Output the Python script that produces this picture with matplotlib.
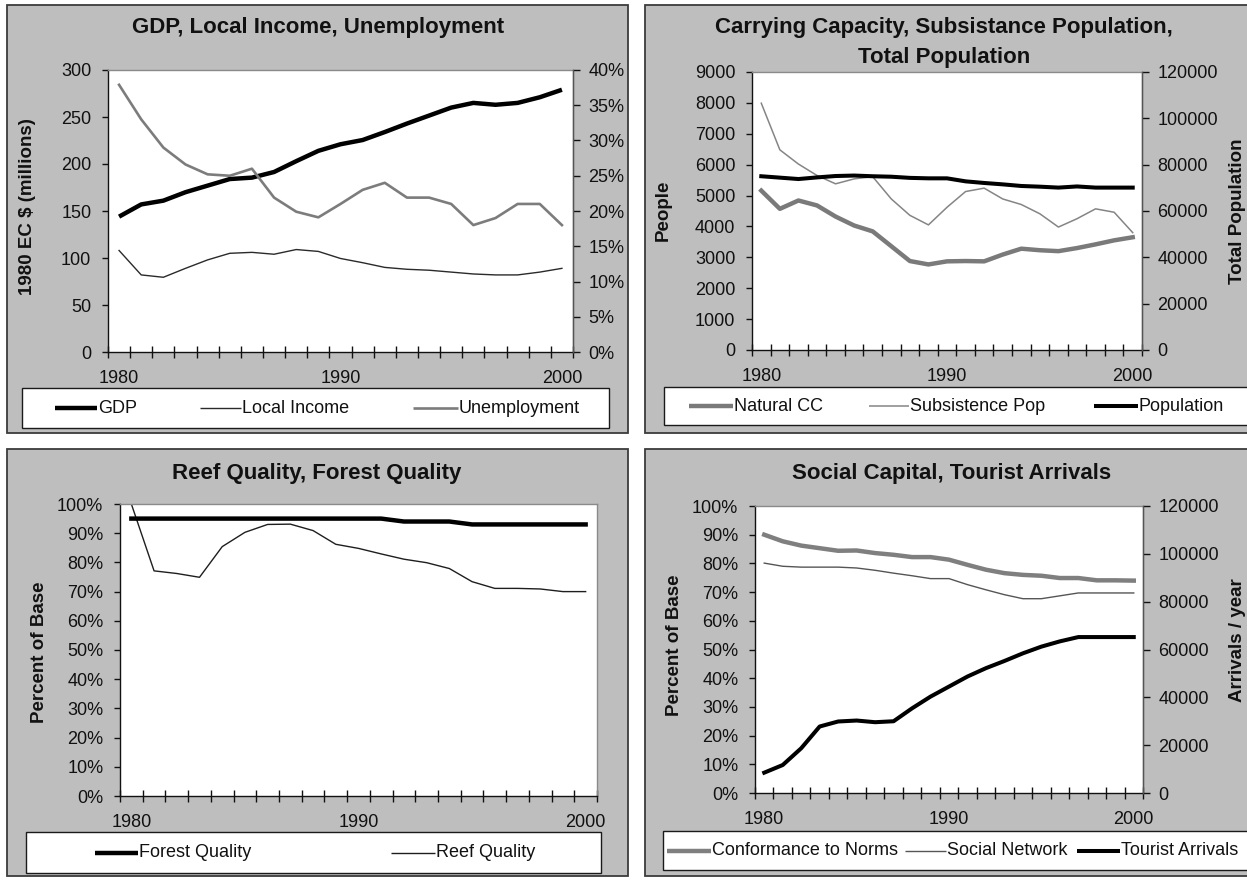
import numpy as np
import matplotlib
matplotlib.use("Agg")
import matplotlib.pyplot as plt
from matplotlib.patches import Rectangle
from matplotlib.lines import Line2D
from matplotlib.ticker import FuncFormatter, FixedLocator, MultipleLocator

plt.rcParams['font.family'] = ['Liberation Sans', 'DejaVu Sans']

# ---------------------------------------------------------------- data
years = list(range(1980, 2001))
year_labels = ['1980', '1990', '2000']

# GDP, local income (1980 EC $ millions) and unemployment (%)
gdp = [144, 157, 161, 170, 177, 184, 185.5, 191.5, 203, 214, 221, 225.5,
       234, 243, 251.5, 260, 265, 263, 265, 271, 279]
local_income = [108, 82, 79.5, 89, 98, 105, 106, 104, 109, 107, 99.5, 95,
                90, 88, 87, 85, 83, 82, 82, 85, 89]
unemployment = [37.9, 33, 29, 26.6, 25.2, 25, 26, 21.9, 19.9, 19.1, 21, 23,
                24, 21.9, 21.9, 21, 18, 19, 21, 21, 18]

# carrying capacity / subsistence population (people), total population
natural_cc = [5160, 4570, 4840, 4680, 4320, 4030, 3840, 3360, 2880, 2770,
              2870, 2880, 2870, 3090, 3280, 3230, 3200, 3300, 3420, 3550, 3650]
subsistence_pop = [7990, 6480, 6020, 5650, 5380, 5540, 5610, 4890, 4360, 4050,
                   4620, 5130, 5240, 4890, 4710, 4410, 3980, 4250, 4570, 4460, 3800]
population = [75000, 74400, 73800, 74500, 75100, 75300, 75000, 74800, 74300,
              74100, 74100, 72800, 72100, 71500, 70800, 70500, 70100, 70600,
              70100, 70100, 70100]

# reef and forest quality (% of base)
forest_quality = [95] * 12 + [94, 94, 94] + [93] * 6
reef_quality = [100, 77.1, 76.2, 74.9, 85.4, 90.3, 93, 93.1, 90.9, 86.2, 84.8,
                82.9, 81.1, 79.9, 77.9, 73.4, 71.1, 71.1, 70.9, 70, 70]

# social capital (% of base) and tourist arrivals per year
conformance = [90, 87.7, 86.2, 85.3, 84.4, 84.5, 83.6, 83, 82.2, 82.2, 81.3,
               79.5, 77.8, 76.6, 76, 75.7, 74.9, 74.9, 74.1, 74.1, 74]
social_network = [80.1, 79, 78.7, 78.7, 78.7, 78.4, 77.6, 76.6, 75.7, 74.7, 74.7,
                  72.6, 70.8, 69.1, 67.7, 67.7, 68.7, 69.7, 69.7, 69.7, 69.7]
tourist_arrivals = [8500, 11700, 18700, 27800, 29900, 30300, 29600, 30000,
                    35400, 40300, 44500, 48700, 52200, 55200, 58400, 61200,
                    63400, 65200, 65200, 65200, 65200]

# ---------------------------------------------------------------- layout
W, H = 1247, 880
fig = plt.figure(figsize=(W / 100, H / 100), dpi=100)
fig.patch.set_facecolor('white')

PANEL = '#bebebe'
TICK_FS = 13
LEG_FS = 13
TITLE_FS = 16
LABEL_FS = 13.5
DARK = '#111111'


def fx(px):
    return px / W


def fy(py):
    return 1 - py / H


def panel(x0, y0, x1, y1):
    fig.add_artist(Rectangle((fx(x0), fy(y1)), (x1 - x0) / W, (y1 - y0) / H,
                             transform=fig.transFigure, facecolor=PANEL,
                             edgecolor='#3c3c3c', lw=1.3, zorder=-2))


def legend_box(x0, y0, x1, y1, entries):
    fig.add_artist(Rectangle((fx(x0), fy(y1)), (x1 - x0) / W, (y1 - y0) / H,
                             transform=fig.transFigure, facecolor='white',
                             edgecolor='#1a1a1a', lw=1.0, zorder=1))
    yc = (y0 + y1) / 2
    for lx0, lx1, label, color, lw in entries:
        fig.add_artist(Line2D([fx(lx0), fx(lx1)], [fy(yc), fy(yc)],
                              transform=fig.transFigure, color=color, lw=lw,
                              solid_capstyle='butt', zorder=2))
        fig.text(fx(lx1 + 1), fy(yc), label, ha='left', va='center',
                 fontsize=LEG_FS, color=DARK, zorder=3)


def make_axes(x0, y0, x1, y1):
    ax = fig.add_axes([fx(x0), fy(y1), (x1 - x0) / W, (y1 - y0) / H])
    ax.set_facecolor('white')
    ax.set_xlim(years[0] - 0.5, years[-1] + 0.5)
    ax.set_xticks([int(s) for s in year_labels], year_labels)
    ax.xaxis.set_minor_locator(FixedLocator(np.arange(years[0] - 0.5, years[-1] + 1, 1)))
    ax.tick_params(axis='x', which='major', length=0, pad=13, labelsize=TICK_FS,
                   labelcolor=DARK)
    ax.tick_params(axis='x', which='minor', direction='inout', length=8,
                   width=1.0, color=DARK)
    ax.tick_params(axis='y', direction='out', length=4, width=1.0, color=DARK,
                   pad=8, labelsize=TICK_FS, labelcolor=DARK)
    for s in ['top', 'right']:
        ax.spines[s].set_color('#8a8a8a')
        ax.spines[s].set_linewidth(1.0)
    for s in ['left', 'bottom']:
        ax.spines[s].set_color(DARK)
        ax.spines[s].set_linewidth(1.0)
    return ax


def make_twin(ax):
    ax2 = ax.twinx()
    for s in ['left', 'top', 'bottom']:
        ax2.spines[s].set_visible(False)
    ax2.spines['right'].set_color('#555555')
    ax2.spines['right'].set_linewidth(1.0)
    ax2.tick_params(axis='y', direction='out', length=5, width=1.0, color=DARK,
                    pad=6, labelsize=TICK_FS, labelcolor=DARK)
    return ax2


pct = FuncFormatter(lambda v, p: f'{v:.0f}%')

# ---------------------------------------------------------------- panel 1
panel(7, 5, 628, 433)
ax = make_axes(108, 70, 573, 352)
ax.set_ylim(0, 300)
ax.yaxis.set_major_locator(MultipleLocator(50))
ax.plot(years, local_income, color='#2a2a2a', lw=1.0)
ax.plot(years, gdp, color='black', lw=3.2, solid_capstyle='butt', zorder=4)
ax2 = make_twin(ax)
ax2.set_ylim(0, 40)
ax2.yaxis.set_major_locator(MultipleLocator(5))
ax2.yaxis.set_major_formatter(pct)
ax2.plot(years, unemployment, color='#7c7c7c', lw=1.9)
fig.text(fx(318), fy(27), 'GDP, Local Income, Unemployment', ha='center',
         va='center', fontsize=TITLE_FS, fontweight='bold', color=DARK)
fig.text(fx(28), fy(207), '1980 EC $ (millions)', rotation=90, ha='center',
         va='center', fontsize=LABEL_FS, fontweight='bold', color=DARK)
legend_box(22, 388, 609, 428, [
    (55, 97, 'GDP', 'black', 3.2),
    (200, 241, 'Local Income', '#2a2a2a', 1.0),
    (413, 458, 'Unemployment', '#7c7c7c', 1.9),
])

# ---------------------------------------------------------------- panel 2
panel(645, 5, 1262, 433)
ax = make_axes(752, 72, 1142, 350)
ax.set_ylim(0, 9000)
ax.yaxis.set_major_locator(MultipleLocator(1000))
ax.plot(years, natural_cc, color='#7a7a7a', lw=3.2)
ax.plot(years, subsistence_pop, color='#858585', lw=1.1)
ax2 = make_twin(ax)
ax2.set_ylim(0, 120000)
ax2.yaxis.set_major_locator(MultipleLocator(20000))
ax2.plot(years, population, color='black', lw=2.9)
fig.text(fx(944), fy(27), 'Carrying Capacity, Subsistance Population,',
         ha='center', va='center', fontsize=TITLE_FS, fontweight='bold', color=DARK)
fig.text(fx(944), fy(57), 'Total Population',
         ha='center', va='center', fontsize=TITLE_FS, fontweight='bold', color=DARK)
fig.text(fx(663), fy(210), 'People', rotation=90, ha='center', va='center',
         fontsize=LABEL_FS, fontweight='bold', color=DARK)
fig.text(fx(1237), fy(211), 'Total Population', rotation=90, ha='center',
         va='center', fontsize=LABEL_FS, fontweight='bold', color=DARK)
legend_box(664, 387, 1262, 425, [
    (689, 733, 'Natural CC', '#7a7a7a', 3.2),
    (869, 909, 'Subsistence Pop', '#858585', 1.1),
    (1094, 1138, 'Population', 'black', 2.9),
])

# ---------------------------------------------------------------- panel 3
panel(7, 449, 628, 876)
ax = make_axes(120, 504, 597, 796)
ax.set_ylim(0, 100)
ax.yaxis.set_major_locator(MultipleLocator(10))
ax.yaxis.set_major_formatter(pct)
ax.plot(years, reef_quality, color='#1e1e1e', lw=1.0)
ax.plot(years, forest_quality, color='black', lw=3.2)
fig.text(fx(317), fy(473), 'Reef Quality, Forest Quality', ha='center',
         va='center', fontsize=TITLE_FS, fontweight='bold', color=DARK)
fig.text(fx(40), fy(652), 'Percent of Base', rotation=90, ha='center',
         va='center', fontsize=LABEL_FS, fontweight='bold', color=DARK)
legend_box(26, 832, 601, 873, [
    (95, 138, 'Forest Quality', 'black', 3.2),
    (391, 435, 'Reef Quality', '#1e1e1e', 1.0),
])

# ---------------------------------------------------------------- panel 4
panel(645, 449, 1262, 876)
ax = make_axes(755, 506, 1143, 793)
ax.set_ylim(0, 100)
ax.yaxis.set_major_locator(MultipleLocator(10))
ax.yaxis.set_major_formatter(pct)
ax.plot(years, conformance, color='#7f7f7f', lw=3.2)
ax.plot(years, social_network, color='#555555', lw=1.0)
ax2 = make_twin(ax)
ax2.set_ylim(0, 120000)
ax2.yaxis.set_major_locator(MultipleLocator(20000))
ax2.plot(years, tourist_arrivals, color='black', lw=2.9)
fig.text(fx(952), fy(473), 'Social Capital, Tourist Arrivals', ha='center',
         va='center', fontsize=TITLE_FS, fontweight='bold', color=DARK)
fig.text(fx(675), fy(645), 'Percent of Base', rotation=90, ha='center',
         va='center', fontsize=LABEL_FS, fontweight='bold', color=DARK)
fig.text(fx(1237), fy(640), 'Arrivals / year', rotation=90, ha='center',
         va='center', fontsize=LABEL_FS, fontweight='bold', color=DARK)
legend_box(663, 831, 1262, 870, [
    (667, 711, 'Conformance to Norms', '#7f7f7f', 3.2),
    (905, 946, 'Social Network', '#555555', 1.0),
    (1077, 1120, 'Tourist Arrivals', 'black', 2.9),
])

fig.savefig('out.png', dpi=100, facecolor='white')
